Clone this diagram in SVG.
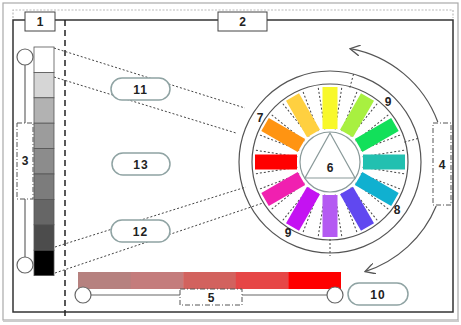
<svg xmlns="http://www.w3.org/2000/svg" xmlns:xlink="http://www.w3.org/1999/xlink" width="461" height="325" viewBox="0 0 461 325">
<style>
text{font-family:"Liberation Sans",Arial,sans-serif;font-size:12px;font-weight:bold;fill:#222;text-anchor:middle}
.pill{fill:#fff;stroke:#8fa3a3;stroke-width:1.5}
.lbl{fill:#fff;stroke:#444;stroke-width:1}
.dd{fill:#fff;stroke:#555;stroke-width:1;stroke-dasharray:5 2 1 2}
.dot{stroke:#444;stroke-width:1;stroke-dasharray:2 2;fill:none}
.knob{fill:#fff;stroke:#666;stroke-width:1.2}
.rail{stroke:#666;stroke-width:1.2;fill:none}
.ring{fill:none;stroke:#555;stroke-width:1.2}
.arc{fill:none;stroke:#555;stroke-width:1.2}
</style>
<defs>
<marker id="ah" viewBox="0 0 10 10" refX="9" refY="5" markerWidth="11" markerHeight="11" markerUnits="userSpaceOnUse" orient="auto-start-reverse">
<path d="M0,0 L9,5 L0,10" fill="none" stroke="#555" stroke-width="1.2"/>
</marker>
<g id="wedge">
<line x1="333.45" y1="129.18" x2="338.05" y2="85.42"/>
<line x1="326.55" y1="129.18" x2="321.95" y2="85.42"/>
</g>
<rect id="bar" x="322.5" y="87" width="15" height="42"/>
</defs>
<rect width="461" height="325" fill="#fff"/>
<!-- frames -->
<g id="frame">
<rect x="3" y="3" width="455" height="317" fill="none" stroke="#aaa" stroke-width="1.2"/>
<line x1="3" y1="321" x2="459" y2="321" stroke="#ccc" stroke-width="2"/>
<path d="M13,18 V10 H453 V18" fill="none" stroke="#bbb" stroke-width="1.2" stroke-dasharray="2 1.5"/>
<rect x="13" y="20" width="440" height="292" fill="none" stroke="#333" stroke-width="1.5"/>
<line x1="65" y1="20" x2="65" y2="317" stroke="#222" stroke-width="1.5" stroke-dasharray="6 4"/>
</g>
<!-- connectors -->
<g id="connectors" class="dot">
<line x1="54" y1="48" x2="245" y2="108"/>
<line x1="54" y1="77" x2="236" y2="133"/>
<line x1="55" y1="247" x2="246" y2="187"/>
<line x1="55" y1="273" x2="263" y2="203"/>
</g>
<!-- gray strip slider -->
<g id="node-3">
<line class="rail" x1="25" y1="65" x2="25" y2="257"/>
<circle class="knob" cx="25" cy="57" r="8"/>
<circle class="knob" cx="25" cy="265" r="8"/>
<g stroke="#555" stroke-width="0.8">
<rect x="34" y="47" width="20" height="25.4" fill="#fff"/>
<rect x="34" y="72.4" width="20" height="25.4" fill="#d6d6d6"/>
<rect x="34" y="97.8" width="20" height="25.4" fill="#b2b2b2"/>
<rect x="34" y="123.2" width="20" height="25.4" fill="#9c9c9c"/>
<rect x="34" y="148.6" width="20" height="25.4" fill="#8c8c8c"/>
<rect x="34" y="174" width="20" height="25.4" fill="#7c7c7c"/>
<rect x="34" y="199.4" width="20" height="25.4" fill="#666"/>
<rect x="34" y="224.8" width="20" height="25.4" fill="#4c4c4c"/>
<rect x="34" y="250.2" width="20" height="25.4" fill="#000"/>
</g>
<rect class="dd" x="17" y="123" width="16" height="76"/>
<text x="25" y="165">3</text>
</g>
<g id="node-1"><rect class="lbl" x="25" y="12" width="30" height="19"/><text x="40" y="26">1</text></g>
<g id="node-2"><rect class="lbl" x="218" y="12" width="49" height="19"/><text x="242.5" y="26">2</text></g>
<!-- pills -->
<g id="node-11"><rect class="pill" x="111" y="78" width="59" height="22" rx="11"/><text x="140.5" y="93.5" letter-spacing="1">11</text></g>
<g id="node-13"><rect class="pill" x="112" y="153" width="58" height="22" rx="11"/><text x="141" y="168.5" letter-spacing="1">13</text></g>
<g id="node-12"><rect class="pill" x="111" y="220" width="59" height="22" rx="11"/><text x="140.5" y="235.5" letter-spacing="1">12</text></g>
<!-- colour wheel -->
<g id="node-wheel">
<circle class="ring" cx="330" cy="162" r="91"/>
<circle class="ring" cx="330" cy="162" r="78"/>
<g class="dot">
<use xlink:href="#wedge" transform="rotate(15 330 162)"/>
<use xlink:href="#wedge" transform="rotate(45 330 162)"/>
<use xlink:href="#wedge" transform="rotate(75 330 162)"/>
<use xlink:href="#wedge" transform="rotate(105 330 162)"/>
<use xlink:href="#wedge" transform="rotate(135 330 162)"/>
<use xlink:href="#wedge" transform="rotate(165 330 162)"/>
<use xlink:href="#wedge" transform="rotate(195 330 162)"/>
<use xlink:href="#wedge" transform="rotate(225 330 162)"/>
<use xlink:href="#wedge" transform="rotate(255 330 162)"/>
<use xlink:href="#wedge" transform="rotate(285 330 162)"/>
<use xlink:href="#wedge" transform="rotate(315 330 162)"/>
<use xlink:href="#wedge" transform="rotate(345 330 162)"/>
<line x1="349.9" y1="87.6" x2="353.8" y2="73.1"/>
<line x1="404.4" y1="142.1" x2="418.9" y2="138.2"/>
<line x1="330" y1="239" x2="330" y2="256"/>
</g>
<use xlink:href="#bar" fill="#f8f82a"/>
<use xlink:href="#bar" fill="#a8f040" transform="rotate(30 330 162)"/>
<use xlink:href="#bar" fill="#12e05a" transform="rotate(60 330 162)"/>
<use xlink:href="#bar" fill="#22c0b0" transform="rotate(90 330 162)"/>
<use xlink:href="#bar" fill="#10b0d0" transform="rotate(120 330 162)"/>
<use xlink:href="#bar" fill="#6048f0" transform="rotate(150 330 162)"/>
<use xlink:href="#bar" fill="#b45af2" transform="rotate(180 330 162)"/>
<use xlink:href="#bar" fill="#c412f2" transform="rotate(210 330 162)"/>
<use xlink:href="#bar" fill="#f020b0" transform="rotate(240 330 162)"/>
<use xlink:href="#bar" fill="#ff0000" transform="rotate(270 330 162)"/>
<use xlink:href="#bar" fill="#ff9412" transform="rotate(300 330 162)"/>
<use xlink:href="#bar" fill="#ffd040" transform="rotate(330 330 162)"/>
<text x="260" y="122">7</text>
<text x="388" y="106">9</text>
<text x="397" y="214">8</text>
<text x="288" y="237">9</text>
</g>
<g id="node-6">
<circle cx="330" cy="162" r="30" fill="#fff" stroke="#8a9a9a" stroke-width="1.2"/>
<path d="M330,133 L355,178 L305,178 Z" fill="none" stroke="#8a9a9a" stroke-width="1.2"/>
<text x="330" y="172">6</text>
</g>
<!-- rotation arrow -->
<g id="node-4">
<path class="arc" d="M350,48.7 A115,115 0 0 1 437.8,122" marker-start="url(#ah)"/>
<path class="arc" d="M436.2,206 A115,115 0 0 1 365,271.6" marker-end="url(#ah)"/>
<rect class="dd" x="433" y="123" width="18" height="82"/>
<text x="442" y="169">4</text>
</g>
<!-- red slider -->
<g id="node-5">
<rect x="78" y="272" width="53" height="17" fill="#b6817f"/>
<rect x="130.6" y="272" width="53" height="17" fill="#c47c7c"/>
<rect x="183.2" y="272" width="53" height="17" fill="#d2625e"/>
<rect x="235.8" y="272" width="53" height="17" fill="#e64646"/>
<rect x="288.4" y="272" width="52.6" height="17" fill="#fe0000"/>
<line class="rail" x1="91" y1="295" x2="327" y2="295"/>
<circle class="knob" cx="83" cy="295" r="8"/>
<circle class="knob" cx="335" cy="295" r="8"/>
<rect class="dd" x="180" y="289" width="62" height="16"/>
<text x="211" y="301.5">5</text>
</g>
<g id="node-10"><rect class="pill" x="348" y="283" width="60" height="22" rx="11"/><text x="378" y="298.5" letter-spacing="1">10</text></g>
</svg>
